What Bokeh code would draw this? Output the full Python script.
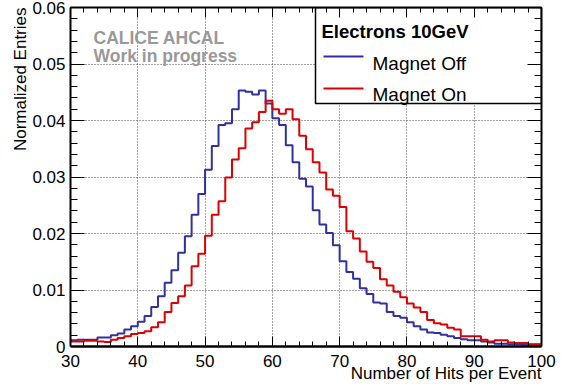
import math
from bokeh.plotting import figure
from bokeh.models import Range1d, LinearAxis, FixedTicker, Label, CustomJSTickFormatter, Title
from bokeh.embed import file_html
from bokeh.resources import INLINE

# ---- data ----
bin_edges = list(range(30, 101))  # 70 bins of width 1, from 30 to 100

magnet_off = [
    0.0011, 0.0012, 0.0012, 0.0012, 0.0016, 0.0016, 0.0020, 0.0023, 0.0030, 0.0036,
    0.0044, 0.0054, 0.0070, 0.0089, 0.0113, 0.0135, 0.0166, 0.0195, 0.0233, 0.0270,
    0.0313, 0.0355, 0.0392, 0.0395, 0.0420, 0.0453, 0.0451, 0.0446, 0.0453, 0.0430,
    0.0404, 0.0392, 0.0356, 0.0326, 0.0297, 0.0283, 0.0241, 0.0216, 0.0201, 0.0179,
    0.0151, 0.0132, 0.0120, 0.0103, 0.0093, 0.0078, 0.0076, 0.0061, 0.0054, 0.0051,
    0.0043, 0.0036, 0.0030, 0.0025, 0.0024, 0.0021, 0.0018, 0.0015, 0.0013, 0.0011,
    0.0011, 0.0009, 0.0007, 0.0005, 0.0005, 0.0004, 0.0004, 0.0003, 0.0003, 0.0003,
]

magnet_on = [
    0.0009, 0.0009, 0.0010, 0.0010, 0.0009, 0.0008, 0.0012, 0.0015, 0.0018, 0.0022,
    0.0024, 0.0027, 0.0034, 0.0043, 0.0061, 0.0077, 0.0089, 0.0108, 0.0142, 0.0164,
    0.0196, 0.0233, 0.0257, 0.0299, 0.0331, 0.0351, 0.0386, 0.0397, 0.0415, 0.0435,
    0.0420, 0.0412, 0.0420, 0.0402, 0.0373, 0.0349, 0.0326, 0.0308, 0.0278, 0.0267,
    0.0247, 0.0204, 0.0191, 0.0168, 0.0150, 0.0139, 0.0119, 0.0108, 0.0097, 0.0087,
    0.0076, 0.0069, 0.0061, 0.0047, 0.0041, 0.0039, 0.0033, 0.0030, 0.0018, 0.0018,
    0.0018, 0.0012, 0.0009, 0.0011, 0.0011, 0.0007, 0.0006, 0.0006, 0.0004, 0.0004,
]

x_major_ticks = [30, 40, 50, 60, 70, 80, 90, 100]
x_minor_ticks = [v for v in range(32, 100, 2) if v % 10 != 0]
y_major_ticks = [0.0, 0.01, 0.02, 0.03, 0.04, 0.05, 0.06]
y_minor_ticks = [round(0.002 * i, 3) for i in range(1, 30) if i % 5 != 0]

legend_title = "Electrons 10GeV"
series_names = ["Magnet Off", "Magnet On"]
series_colors = ["#30309e", "#dd0000"]
x_title = "Number of Hits per Event"
y_title = "Normalized Entries"
watermark = ["CALICE AHCAL", "Work in progress"]

FONT = "Liberation Sans"

# ---- layout helpers (pixel -> data) ----
X0, X1, Y0, Y1 = 30.0, 100.0, 0.0, 0.06
FL, FR, FT, FB = 70, 541, 7, 346


def dx(px):
    return X0 + (px - FL) * (X1 - X0) / (FR - FL)


def dy(py):
    return Y0 + (FB - py) * (Y1 - Y0) / (FB - FT)


p = figure(width=562, height=387, x_range=Range1d(X0, X1), y_range=Range1d(Y0, Y1),
           output_backend="svg", toolbar_location=None,
           min_border_left=FL, min_border_right=562 - FR,
           min_border_top=FT, min_border_bottom=387 - FB)
p.outline_line_color = None
p.background_fill_color = "white"
p.border_fill_color = "white"

xt = FixedTicker(ticks=x_major_ticks, minor_ticks=x_minor_ticks)
yt = FixedTicker(ticks=y_major_ticks, minor_ticks=y_minor_ticks)
yfmt = CustomJSTickFormatter(code="return tick == 0 ? '0' : tick.toFixed(2);")
blank_fmt = CustomJSTickFormatter(code="return '';")


def style_axis(ax, ticker, major_in, minor_in, show_labels):
    ax.ticker = ticker
    ax.major_tick_in = major_in
    ax.major_tick_out = 0
    ax.minor_tick_in = minor_in
    ax.minor_tick_out = 0
    ax.axis_line_width = 2
    ax.axis_line_color = "black"
    ax.major_tick_line_color = "black"
    ax.minor_tick_line_color = "black"
    ax.major_tick_line_width = 1
    ax.minor_tick_line_width = 1
    ax.axis_label = None
    if show_labels:
        ax.major_label_text_font = FONT
        ax.major_label_text_font_size = "17px"
        ax.major_label_text_color = "black"
    else:
        ax.formatter = blank_fmt
        ax.major_label_text_font_size = "0px"
        ax.major_label_text_color = None
        ax.major_label_standoff = 0


xa = p.xaxis[0]
style_axis(xa, xt, 10, 5, True)
xa.major_label_standoff = 8
xa.axis_line_width = 2.5
ya = p.yaxis[0]
style_axis(ya, yt, 14, 7, True)
ya.formatter = yfmt
ya.major_label_standoff = 5

top_ax = LinearAxis()
style_axis(top_ax, xt, 10, 5, False)
p.add_layout(top_ax, "above")
right_ax = LinearAxis()
style_axis(right_ax, yt, 14, 7, False)
p.add_layout(right_ax, "right")

# axis titles (right / top aligned, ROOT style)
p.add_layout(Title(text=x_title, align="right", vertical_align="top", standoff=-11, offset=0,
                   text_font=FONT, text_font_size="17px", text_font_style="normal",
                   text_color="black"), "below")
p.add_layout(Title(text=y_title, align="right", vertical_align="bottom", standoff=0, offset=0,
                   text_font=FONT, text_font_size="17px", text_font_style="normal",
                   text_color="black"), "left")

p.xgrid.ticker = xt
p.ygrid.ticker = yt
for g in (p.xgrid[0], p.ygrid[0]):
    g.grid_line_color = "#444444"
    g.grid_line_dash = "1 2"
    g.grid_line_width = 1

# histograms
for vals, col in zip([magnet_off, magnet_on], series_colors):
    p.step(x=bin_edges, y=vals + [vals[-1]], mode="after", line_color=col, line_width=2)

# legend box
p.quad(left=dx(315), right=X1, top=Y1, bottom=dy(103), fill_color="white",
       line_color="black", line_width=1.5)
for py, col in zip([56, 88], series_colors):
    p.line(x=[dx(323), dx(363)], y=[dy(py), dy(py)], line_color=col, line_width=2)

p.add_layout(Label(x=dx(321), y=dy(30.5), text=legend_title, text_font=FONT,
                   text_font_size="18.5px", text_font_style="bold", text_color="black",
                   text_baseline="alphabetic", text_align="left"))
for py, name in zip([63, 94], series_names):
    p.add_layout(Label(x=dx(372), y=dy(py), text=name, text_font=FONT,
                       text_font_size="19px", text_color="black",
                       text_baseline="alphabetic", text_align="left"))

# watermark
for py, t in zip([37, 55], watermark):
    p.add_layout(Label(x=dx(93), y=dy(py), text=t, text_font=FONT,
                       text_font_size="17.5px", text_font_style="bold", text_color="#999999",
                       text_baseline="alphabetic", text_align="left"))

open("out.html", "w").write(file_html(p, INLINE))
